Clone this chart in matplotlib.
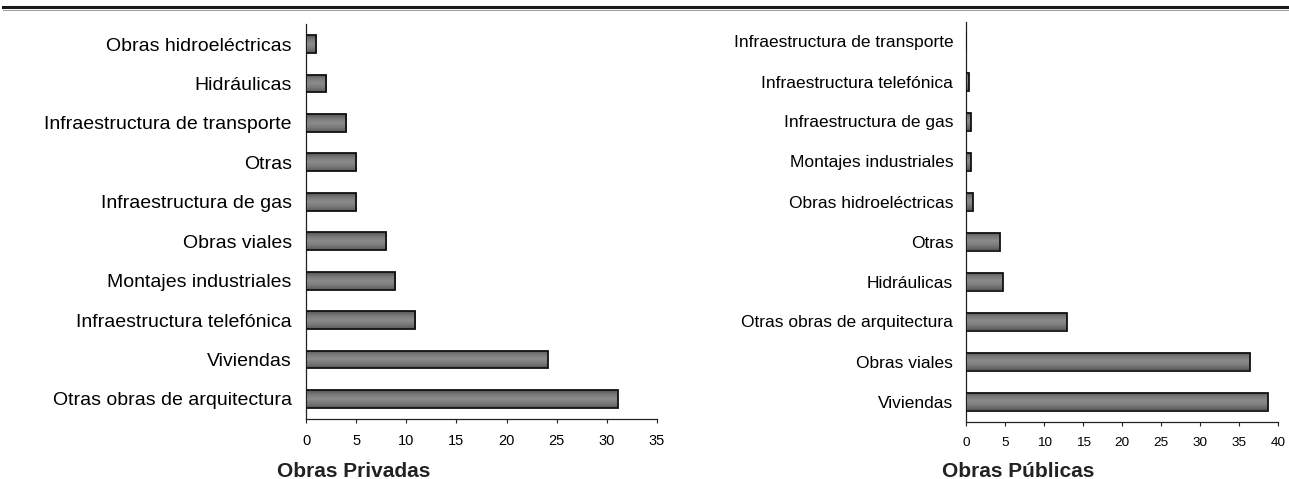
import matplotlib
matplotlib.use("Agg")
import matplotlib.pyplot as plt
import numpy as np
from matplotlib.lines import Line2D
from matplotlib.colors import LinearSegmentedColormap

plt.rcParams['font.family'] = ['Liberation Sans', 'DejaVu Sans']

# data, top to bottom as shown
privadas_cats = ["Obras hidroeléctricas", "Hidráulicas", "Infraestructura de transporte",
                 "Otras", "Infraestructura de gas", "Obras viales", "Montajes industriales",
                 "Infraestructura telefónica", "Viviendas", "Otras obras de arquitectura"]
privadas_vals = [1.0, 2.0, 4.0, 5.0, 5.0, 8.0, 8.9, 10.9, 24.1, 31.1]

publicas_cats = ["Infraestructura de transporte", "Infraestructura telefónica",
                 "Infraestructura de gas", "Montajes industriales", "Obras hidroeléctricas",
                 "Otras", "Hidráulicas", "Otras obras de arquitectura", "Obras viales", "Viviendas"]
publicas_vals = [0.0, 0.35, 0.6, 0.6, 0.85, 4.3, 4.7, 12.9, 36.4, 38.7]

privadas_ticks = [0, 5, 10, 15, 20, 25, 30, 35]
publicas_ticks = [0, 5, 10, 15, 20, 25, 30, 35, 40]

W, H = 1289, 479
fig = plt.figure(figsize=(W / 100, H / 100), dpi=100)

spine_color = '#222222'
# cylinder-like shading across each bar
bar_cmap = LinearSegmentedColormap.from_list(
    "bar", ['#555555', '#7a7a7a', '#8c8c8c', '#7a7a7a', '#5a5a5a'])
shade = np.linspace(0, 1, 64).reshape(-1, 1)


def draw_panel(ax, cats, vals, ticks, label_size, tick_size, label_pad):
    ypos = list(range(len(cats)))
    bars = ax.barh(ypos, vals, height=0.45, color='#707070', edgecolor='#111111',
                   linewidth=1.3, zorder=3)
    for b in bars:
        if b.get_width() <= 0:
            continue
        x0, y0 = b.get_x(), b.get_y()
        im = ax.imshow(shade, cmap=bar_cmap, aspect='auto', zorder=3.5,
                       extent=(x0, x0 + b.get_width(), y0 + b.get_height(), y0),
                       interpolation='bilinear')
        im.set_clip_path(b)
        b.set_facecolor('none')
        b.set_zorder(4)
    ax.set_ylim(len(cats) - 0.5, -0.5)
    ax.set_xlim(ticks[0], ticks[-1])
    ax.set_xticks(ticks)
    ax.set_yticks(ypos)
    ax.set_yticklabels(cats, fontsize=label_size)
    ax.tick_params(axis='y', length=0, pad=label_pad)
    ax.tick_params(axis='x', length=3, width=0.8, color=spine_color, labelsize=tick_size, pad=8)
    for s in ['top', 'right']:
        ax.spines[s].set_visible(False)
    for s in ['left', 'bottom']:
        ax.spines[s].set_color(spine_color)
        ax.spines[s].set_linewidth(0.9)


ax1 = fig.add_axes([306.3 / W, 60.3 / H, 350.4 / W, 394.4 / H])
draw_panel(ax1, privadas_cats, privadas_vals, privadas_ticks, 14, 10.5, 10.5)

ax2 = fig.add_axes([966.3 / W, 57.5 / H, 312 / W, 400 / H])
draw_panel(ax2, publicas_cats, publicas_vals, publicas_ticks, 12.5, 9.7, 9.4)

fig.text(354 / W, 2 / H, "Obras Privadas", fontsize=15, fontweight='bold',
         ha='center', va='baseline', color='#222222')
fig.text(1018 / W, 2 / H, "Obras Públicas", fontsize=15, fontweight='bold',
         ha='center', va='baseline', color='#222222')

# rule across the top
fig.add_artist(Line2D([3 / W, 1], [1 - 7 / H, 1 - 7 / H], transform=fig.transFigure,
                      color='#1a1a1a', linewidth=2.2))
fig.add_artist(Line2D([3 / W, 1], [1 - 9.5 / H, 1 - 9.5 / H], transform=fig.transFigure,
                      color='#999999', linewidth=0.7))

fig.savefig("out.png", dpi=100)
